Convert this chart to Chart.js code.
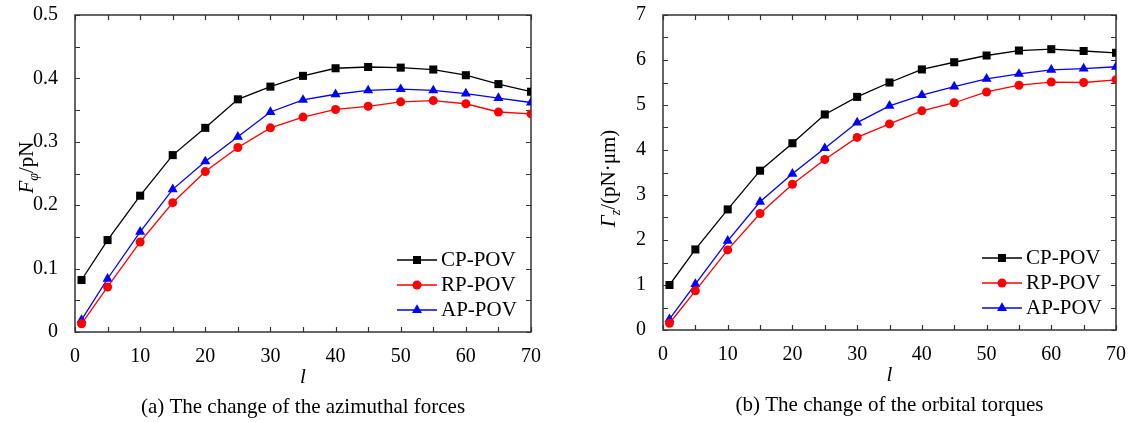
<!DOCTYPE html>
<html>
<head>
<meta charset="utf-8">
<script src="https://cdn.jsdelivr.net/npm/chart.js@4"></script>
<style>
  html, body { margin: 0; padding: 0; background: #fff; }
  #wrap { position: relative; width: 1132px; height: 422px; }
  canvas { position: absolute; top: 0; }
</style>
</head>
<body>
<div id="wrap">
  <canvas id="force-chart" width="566" height="422" style="left:0"></canvas>
  <canvas id="torque-chart" width="566" height="422" style="left:566px"></canvas>
</div>
<script>
// topological charge l
const lValues = [1, 5, 10, 15, 20, 25, 30, 35, 40, 45, 50, 55, 60, 65, 70];

// (a) azimuthal force F_phi / pN
const forceCP = [0.082, 0.145, 0.215, 0.279, 0.322, 0.367, 0.387, 0.404, 0.416, 0.418, 0.417, 0.414, 0.405, 0.391, 0.379];
const forceRP = [0.013, 0.071, 0.142, 0.204, 0.253, 0.291, 0.322, 0.339, 0.351, 0.356, 0.363, 0.365, 0.36, 0.347, 0.344];
const forceAP = [0.019, 0.084, 0.158, 0.225, 0.269, 0.308, 0.347, 0.366, 0.375, 0.381, 0.383, 0.381, 0.376, 0.369, 0.362];

// (b) orbital torque Gamma_z / (pN·um)
const torqueCP = [1.0, 1.79, 2.68, 3.54, 4.15, 4.79, 5.18, 5.5, 5.79, 5.95, 6.1, 6.21, 6.24, 6.2, 6.16];
const torqueRP = [0.15, 0.87, 1.78, 2.59, 3.24, 3.79, 4.28, 4.58, 4.87, 5.05, 5.29, 5.44, 5.51, 5.5, 5.56];
const torqueAP = [0.24, 1.02, 1.98, 2.85, 3.47, 4.04, 4.61, 4.98, 5.22, 5.41, 5.58, 5.69, 5.78, 5.81, 5.85];

const seriesNames = ["CP-POV", "RP-POV", "AP-POV"];
const captions = ["(a) The change of the azimuthal forces", "(b) The change of the orbital torques"];

const SERIF = "'Liberation Serif', 'Times New Roman', serif";
Chart.defaults.font.family = SERIF;
Chart.defaults.color = "#000";

function drawMarker(ctx, style, x, y, color) {
  ctx.save();
  ctx.fillStyle = color;
  ctx.beginPath();
  if (style === "rect") {
    ctx.rect(x - 4, y - 4, 8, 8);
  } else if (style === "triangle") {
    ctx.moveTo(x, y - 5.8);
    ctx.lineTo(x + 5, y + 2.9);
    ctx.lineTo(x - 5, y + 2.9);
    ctx.closePath();
  } else {
    ctx.arc(x, y, 4.5, 0, Math.PI * 2);
  }
  ctx.fill();
  ctx.restore();
}

// box + inward ticks on all four sides
const framePlugin = {
  id: "frame",
  beforeDatasetsDraw(chart, args, opts) {
    const { ctx, chartArea: a } = chart;
    const xs = chart.scales.x, ys = chart.scales.y;
    ctx.save();
    ctx.strokeStyle = "#333";
    ctx.lineWidth = 1.5;
    ctx.strokeRect(a.left, a.top, a.right - a.left, a.bottom - a.top);
    ctx.lineWidth = 1.2;
    ctx.beginPath();
    for (let v = xs.min; v <= xs.max + 1e-9; v += opts.xMinor) {
      const px = Math.round(xs.getPixelForValue(v)) + 0.5;
      ctx.moveTo(px, a.bottom); ctx.lineTo(px, a.bottom - 5);
      ctx.moveTo(px, a.top); ctx.lineTo(px, a.top + 5);
    }
    for (let v = ys.min; v <= ys.max + 1e-9; v += opts.yMinor) {
      const py = Math.round(ys.getPixelForValue(v)) + 0.5;
      ctx.moveTo(a.left, py); ctx.lineTo(a.left + 5, py);
      ctx.moveTo(a.right, py); ctx.lineTo(a.right - 5, py);
    }
    ctx.stroke();
    ctx.restore();
  },
  afterDraw(chart, args, opts) {
    const { ctx, chartArea: a } = chart;
    const cx = (a.left + a.right) / 2;
    ctx.save();
    ctx.fillStyle = "#000";
    ctx.textAlign = "center";
    ctx.textBaseline = "middle";
    ctx.font = "italic 21px " + SERIF;
    ctx.fillText("l", cx, a.bottom + 45);
    ctx.font = "21px " + SERIF;
    ctx.fillText(opts.caption, cx, a.bottom + 75);

    // y title: main letter, subscript, rest
    const cy = (a.top + a.bottom) / 2 + opts.titleShift;
    ctx.translate(opts.titleX, cy);
    ctx.rotate(-Math.PI / 2);
    ctx.textAlign = "left";
    ctx.textBaseline = "alphabetic";
    const mainFont = "italic 21px " + SERIF;
    const subFont = "italic 14px " + SERIF;
    const restFont = "21px " + SERIF;
    ctx.font = mainFont; const w1 = ctx.measureText(opts.titleMain).width;
    ctx.font = subFont; const w2 = ctx.measureText(opts.titleSub).width;
    ctx.font = restFont; const w3 = ctx.measureText(opts.titleRest).width;
    let tx = -(w1 + w2 + w3) / 2;
    const base = 7;
    ctx.font = mainFont; ctx.fillText(opts.titleMain, tx, base); tx += w1;
    ctx.font = subFont; ctx.fillText(opts.titleSub, tx, base + 5); tx += w2;
    ctx.font = restFont; ctx.fillText(opts.titleRest, tx, base);
    ctx.restore();

    // legend, lower right inside the plot
    ctx.save();
    ctx.font = "21px " + SERIF;
    ctx.textBaseline = "middle";
    chart.data.datasets.forEach((ds, i) => {
      const y = a.bottom - 72 + i * 25;
      const x0 = a.right - 134;
      ctx.strokeStyle = ds.borderColor;
      ctx.lineWidth = 1.3;
      ctx.beginPath();
      ctx.moveTo(x0, y); ctx.lineTo(x0 + 40, y);
      ctx.stroke();
      drawMarker(ctx, ds.pointStyle, x0 + 20, y, ds.backgroundColor);
      ctx.fillStyle = "#000";
      ctx.fillText(ds.label, x0 + 44, y);
    });
    ctx.restore();
  },
};

function makeDatasets(cp, rp, ap) {
  const styles = [
    { color: "#000000", point: "rect", r: 5.7 },
    { color: "#ff0000", point: "circle", r: 4.5 },
    { color: "#0000ff", point: "triangle", r: 5.8 },
  ];
  return [cp, rp, ap].map((vals, i) => ({
    label: seriesNames[i],
    data: lValues.map((l, j) => ({ x: l, y: vals[j] })),
    borderColor: styles[i].color,
    backgroundColor: styles[i].color,
    pointStyle: styles[i].point,
    pointRadius: styles[i].r,
    pointBorderWidth: 0,
    borderWidth: 1.3,
    tension: 0,
  }));
}

// drop the label overhang padding so layout.padding alone places the plot box
function noOverhang(s) {
  s.paddingTop = 0; s.paddingBottom = 0;
  s.paddingLeft = 0; s.paddingRight = 0;
}

function makeChart(id, datasets, cfg) {
  return new Chart(document.getElementById(id), {
    type: "line",
    data: { datasets },
    plugins: [framePlugin],
    options: {
      responsive: false,
      animation: false,
      layout: { padding: { top: 15, right: cfg.padRight, left: 0, bottom: 0 } },
      plugins: {
        legend: { display: false },
        tooltip: { enabled: false },
        frame: cfg.frame,
      },
      scales: {
        x: {
          type: "linear",
          min: 0,
          max: 70,
          grid: { display: false, drawTicks: false },
          border: { display: false },
          ticks: { stepSize: 10, padding: 13, font: { size: 20 } },
          afterFit: (s) => { s.height = cfg.xHeight; noOverhang(s); },
        },
        y: {
          min: 0,
          max: cfg.yMax,
          grid: { display: false, drawTicks: false },
          border: { display: false },
          ticks: { stepSize: cfg.yStep, padding: 17, font: { size: 20 } },
          afterFit: (s) => { s.width = cfg.yWidth; noOverhang(s); },
        },
      },
    },
  });
}

makeChart("force-chart", makeDatasets(forceCP, forceRP, forceAP), {
  padRight: 35, xHeight: 90, yWidth: 75, yMax: 0.5, yStep: 0.1,
  frame: { xMinor: 5, yMinor: 0.05, caption: captions[0], titleX: 26, titleShift: -6,
           titleMain: "F", titleSub: "φ", titleRest: "/pN" },
});

makeChart("torque-chart", makeDatasets(torqueCP, torqueRP, torqueAP), {
  padRight: 16, xHeight: 92, yWidth: 97, yMax: 7, yStep: 1,
  frame: { xMinor: 5, yMinor: 0.5, caption: captions[1], titleX: 42, titleShift: 6,
           titleMain: "Γ", titleSub: "z", titleRest: "/(pN·μm)" },
});
</script>
</body>
</html>
